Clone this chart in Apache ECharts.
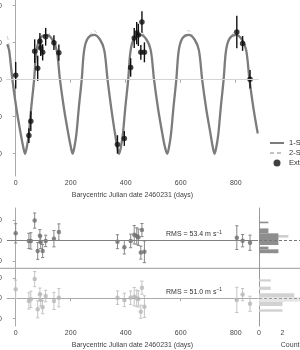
<!DOCTYPE html>
<html>
<head>
<meta charset="utf-8">
<script src="https://cdn.jsdelivr.net/npm/echarts@6/dist/echarts.min.js"></script>
<style>
  html, body { margin: 0; padding: 0; background: #fff; }
  #chart { width: 300px; height: 350px; }
</style>
</head>
<body>
<div id="chart"></div>
<script>
// observation epochs (days) and RVs (m/s)
var rvDays = [0, 48, 55, 69, 80, 88, 91, 98, 109, 139, 157, 370, 395, 418, 431, 440, 446, 455, 459, 468, 804, 825, 852];
var rvValues = [12, -151, -112, 77, 31, 104, 86, 74, 116, 100, 73, -175, -159, 33, 113, 126, 121, 74, 156, 74, 129, 98, 1];
var rvErrors = [36, 20, 27, 32, 34, 22, 22, 22, 24, 20, 22, 25, 20, 25, 27, 30, 30, 20, 29, 27, 44, 20, 25];

// residuals, 1-satellite and 2-satellite fits
var resid1 = [36, -1, -1, 98, -50, 24, -8, -50, -1, 10, 42, -5, -32, -1, 29, 23, 17, -58, 52, -54, 15, 0, -10];
var resid1Err = [47, 37, 40, 37, 41, 30, 30, 32, 28, 40, 40, 34, 33, 33, 45, 40, 40, 32, 32, 53, 58, 30, 37];
var resid2 = [44, -13, -5, 94, -54, 20, -8, -44, 11, -13, 3, 3, -8, 3, 8, 0, -3, -66, 52, -41, -8, 18, -27];
var resid2Err = [45, 40, 40, 37, 42, 30, 30, 32, 28, 42, 45, 33, 33, 33, 45, 40, 40, 32, 32, 53, 62, 30, 37];

// model curves
var modelDays = [-31, -24, -12, 3, 18, 27,
  34, 41, 48, 56, 67, 76, 89, 112, 134, 149, 161, 176, 191, 200,
  207, 214, 221, 229, 240, 249, 262, 285, 307, 322, 334, 348, 361, 369,
  376, 383, 390, 398, 409, 418, 431, 454, 476, 491, 503, 518, 533, 542,
  551, 558, 565, 573, 584, 593, 606, 629, 651, 666, 678, 693, 708, 716,
  723, 730, 737, 745, 756, 765, 778, 801, 823, 838, 850, 865, 880];
var oneSatModel = [96, 80, 0, -80, -145, -180,
  -200, -180, -145, -80, 0, 80, 112, 121, 108, 80, 0, -80, -145, -180,
  -200, -180, -145, -80, 0, 80, 112, 121, 108, 80, 0, -80, -145, -180,
  -200, -180, -145, -80, 0, 80, 112, 121, 108, 80, 0, -80, -145, -180,
  -200, -180, -145, -80, 0, 80, 112, 121, 108, 80, 0, -80, -145, -180,
  -200, -180, -145, -80, 0, 80, 112, 121, 108, 80, 0, -80, -145];
var twoSatModel = [118, 95, 10, -75, -148, -185,
  -203, -182, -147, -82, -2, 78, 108, 133, 104, 78, 0, -80, -147, -182,
  -203, -182, -147, -82, -2, 78, 108, 133, 104, 78, 0, -80, -147, -182,
  -203, -182, -147, -82, -2, 78, 108, 133, 104, 78, 0, -80, -147, -182,
  -203, -182, -147, -82, -2, 78, 108, 133, 104, 78, 0, -80, -147, -182,
  -203, -182, -147, -82, -2, 78, 108, 133, 104, 78, 0, -80, -147];

// residual histograms: [low, high, count]
var hist1Bins = [[85, 93, 0.8], [36, 60, 0.8], [-21, 36, 1.65], [-42, -29, 0.8], [-61, -42, 1.65]];
var hist1Extra = [[15, 28, 2.5]];
var hist2Bins = [[82, 93, 1], [41, 57, 1], [5, 25, 3], [-38, -17, 2], [-66, -54, 2]];
var hist2Extra = [[-17, 5, 3.6]];

var dayTicks = [0, 200, 400, 600, 800];
var rvTicks = [-200, -100, 0, 100, 200];
var residTicks = [-100, 0, 100];
var countTicks = [0, 2, 4];

var FONT = 'Liberation Sans, Arial, sans-serif';

function zip3(a, b, c) {
    var out = [];
    for (var i = 0; i < a.length; i++) out.push([a[i], b[i], c[i]]);
    return out;
}
function zip2(a, b) {
    var out = [];
    for (var i = 0; i < a.length; i++) out.push([a[i], b[i]]);
    return out;
}

function errorBars(color, width, cap) {
    return function (params, api) {
        var x = api.value(0), y = api.value(1), e = api.value(2);
        var hi = api.coord([x, y + e]);
        var lo = api.coord([x, y - e]);
        var kids = [{
            type: 'line',
            shape: { x1: hi[0], y1: hi[1], x2: lo[0], y2: lo[1] },
            style: { stroke: color, lineWidth: width }
        }];
        if (cap) {
            kids.push({ type: 'line', shape: { x1: hi[0] - cap, y1: hi[1], x2: hi[0] + cap, y2: hi[1] }, style: { stroke: color, lineWidth: width } });
            kids.push({ type: 'line', shape: { x1: lo[0] - cap, y1: lo[1], x2: lo[0] + cap, y2: lo[1] }, style: { stroke: color, lineWidth: width } });
        }
        return { type: 'group', children: kids };
    };
}

function histBar(color) {
    return function (params, api) {
        var lo = api.value(0), hi = api.value(1), n = api.value(2);
        var a = api.coord([0, hi]);
        var b = api.coord([n, lo]);
        return {
            type: 'rect',
            shape: { x: a[0], y: a[1], width: b[0] - a[0], height: b[1] - a[1] },
            style: { fill: color }
        };
    };
}

function zeroLine(color, type) {
    return {
        silent: true, symbol: 'none', label: { show: false },
        lineStyle: { color: color, width: 1, type: type },
        data: [{ yAxis: 0 }]
    };
}

var axisCol = '#aaa';
var labelStyle = { fontSize: 7, color: '#444', fontFamily: FONT };

function dayAxis(grid, showIt) {
    return {
        type: 'value', gridIndex: grid, min: -31.6, max: 881,
        show: showIt,
        name: 'Barycentric Julian date 2460231 (days)',
        nameLocation: 'middle', nameGap: 16,
        nameTextStyle: { fontSize: 7, color: '#444', fontFamily: FONT },
        axisLine: { show: true, lineStyle: { color: axisCol, width: 1 } },
        axisTick: { show: true, length: 3, customValues: dayTicks, lineStyle: { color: axisCol } },
        axisLabel: Object.assign({ customValues: dayTicks, margin: 4 }, labelStyle),
        splitLine: { show: false }
    };
}

function leftAxis(grid, lo, hi, ticks) {
    return {
        type: 'value', gridIndex: grid, min: lo, max: hi,
        axisLine: { show: true, lineStyle: { color: axisCol, width: 1 } },
        axisTick: { show: true, length: 3, customValues: ticks, lineStyle: { color: axisCol } },
        axisLabel: Object.assign({ customValues: ticks, margin: 5 }, labelStyle),
        splitLine: { show: false }
    };
}

function histYAxis(grid, lo, hi) {
    return {
        type: 'value', gridIndex: grid, min: lo, max: hi,
        axisLine: { show: true, lineStyle: { color: '#999', width: 1 } },
        axisTick: { show: false }, axisLabel: { show: false },
        splitLine: { show: false }
    };
}

function makeGrid(left, top, width, height) {
    return { left: left, top: top, width: width, height: height, containLabel: false, outerBoundsMode: 'none' };
}

var chart = echarts.init(document.getElementById('chart'));

var option = {
    animation: false,
    textStyle: { fontFamily: FONT },
    grid: [
        makeGrid(7, 0, 251, 176),
        makeGrid(7, 208, 251, 60.3),
        makeGrid(7, 268.3, 251, 57.7),
        makeGrid(259, 208, 62.3, 60.3),
        makeGrid(259, 268.3, 62.3, 57.7)
    ],
    xAxis: [
        dayAxis(0, true),
        dayAxis(1, false),
        dayAxis(2, true),
        { type: 'value', gridIndex: 3, min: 0, max: 5.3, show: false },
        {
            type: 'value', gridIndex: 4, min: 0, max: 5.3,
            name: 'Count', nameLocation: 'middle', nameGap: 16,
            nameTextStyle: { fontSize: 7, color: '#444', fontFamily: FONT },
            axisLine: { show: true, lineStyle: { color: axisCol } },
            axisTick: { show: true, length: 3, customValues: countTicks, lineStyle: { color: axisCol } },
            axisLabel: Object.assign({ customValues: countTicks, margin: 4 }, labelStyle),
            splitLine: { show: false }
        }
    ],
    yAxis: [
        leftAxis(0, -260.3, 215.4, rvTicks),
        leftAxis(1, -134.6, 159.5, residTicks),
        leftAxis(2, -136, 147, residTicks),
        histYAxis(3, -134.6, 159.5),
        histYAxis(4, -136, 147)
    ],
    legend: {
        orient: 'vertical', left: 264, top: 134,
        itemWidth: 14, itemHeight: 7, itemGap: 2,
        textStyle: { fontSize: 7.5, color: '#333', fontFamily: FONT },
        data: [
            { name: '1-Satellite model', itemStyle: { opacity: 0 } },
            { name: '2-Satellite model', itemStyle: { opacity: 0 } },
            { name: 'Extracted RVs' }
        ]
    },
    graphic: [
        { type: 'line', shape: { x1: 0, y1: 268.3, x2: 300, y2: 268.3 }, style: { stroke: '#999', lineWidth: 1 } },
        {
            type: 'text', left: 166, top: 230,
            style: {
                text: 'RMS = 53.4 m s{s|\u22121}', fill: '#333', font: '7px ' + FONT,
                rich: { s: { fontSize: 5, verticalAlign: 'top', padding: [0, 0, 4, 0] } }
            }
        },
        {
            type: 'text', left: 166, top: 287.3,
            style: {
                text: 'RMS = 51.0 m s{s|\u22121}', fill: '#333', font: '7px ' + FONT,
                rich: { s: { fontSize: 5, verticalAlign: 'top', padding: [0, 0, 4, 0] } }
            }
        }
    ],
    series: [
        {
            name: '2-Satellite model', type: 'line', xAxisIndex: 0, yAxisIndex: 0,
            data: zip2(modelDays, twoSatModel), symbol: 'none', smooth: 0.35,
            lineStyle: { color: '#c4c4c4', width: 1, type: [4, 3] },
            itemStyle: { color: '#c4c4c4' },
            markLine: zeroLine('#d4d4d4', 'solid'), z: 1
        },
        {
            name: '1-Satellite model', type: 'line', xAxisIndex: 0, yAxisIndex: 0,
            data: zip2(modelDays, oneSatModel), symbol: 'none', smooth: 0.35,
            lineStyle: { color: '#7c7c7c', width: 2.3 },
            itemStyle: { color: '#7c7c7c' }, z: 2
        },
        {
            type: 'custom', xAxisIndex: 0, yAxisIndex: 0,
            data: zip3(rvDays, rvValues, rvErrors),
            renderItem: errorBars('#111', 1.4, 0), z: 3, silent: true
        },
        {
            name: 'Extracted RVs', type: 'scatter', xAxisIndex: 0, yAxisIndex: 0,
            data: zip2(rvDays, rvValues), symbolSize: 5.5,
            itemStyle: { color: '#111' }, z: 4
        },
        // residuals 1-satellite
        {
            type: 'custom', xAxisIndex: 1, yAxisIndex: 1,
            data: zip3(rvDays, resid1, resid1Err),
            renderItem: errorBars('#888', 1, 1.6), z: 3, silent: true
        },
        {
            type: 'scatter', xAxisIndex: 1, yAxisIndex: 1,
            data: zip2(rvDays, resid1), symbolSize: 4.5,
            itemStyle: { color: '#6e6e6e' }, z: 4,
            markLine: zeroLine('#808080', 'solid')
        },
        // residuals 2-satellite
        {
            type: 'custom', xAxisIndex: 2, yAxisIndex: 2,
            data: zip3(rvDays, resid2, resid2Err),
            renderItem: errorBars('#c4c4c4', 1, 1.6), z: 3, silent: true
        },
        {
            type: 'scatter', xAxisIndex: 2, yAxisIndex: 2,
            data: zip2(rvDays, resid2), symbolSize: 4.5,
            itemStyle: { color: '#b8b8b8' }, z: 4,
            markLine: zeroLine('#aaa', [3, 2])
        },
        // histograms
        {
            type: 'custom', xAxisIndex: 3, yAxisIndex: 3,
            data: hist1Extra, renderItem: histBar('#cfcfcf'), silent: true, z: 2
        },
        {
            type: 'custom', xAxisIndex: 3, yAxisIndex: 3,
            data: hist1Bins, renderItem: histBar('#8e8e8e'), silent: true, z: 3
        },
        {
            type: 'line', xAxisIndex: 3, yAxisIndex: 3, data: [],
            markLine: zeroLine('#777', [3, 2])
        },
        {
            type: 'custom', xAxisIndex: 4, yAxisIndex: 4,
            data: hist2Extra, renderItem: histBar('#e6e6e6'), silent: true, z: 2
        },
        {
            type: 'custom', xAxisIndex: 4, yAxisIndex: 4,
            data: hist2Bins, renderItem: histBar('#d2d2d2'), silent: true, z: 3
        },
        {
            type: 'line', xAxisIndex: 4, yAxisIndex: 4, data: [],
            markLine: zeroLine('#999', [3, 2])
        }
    ]
};

chart.setOption(option);
</script>
</body>
</html>
